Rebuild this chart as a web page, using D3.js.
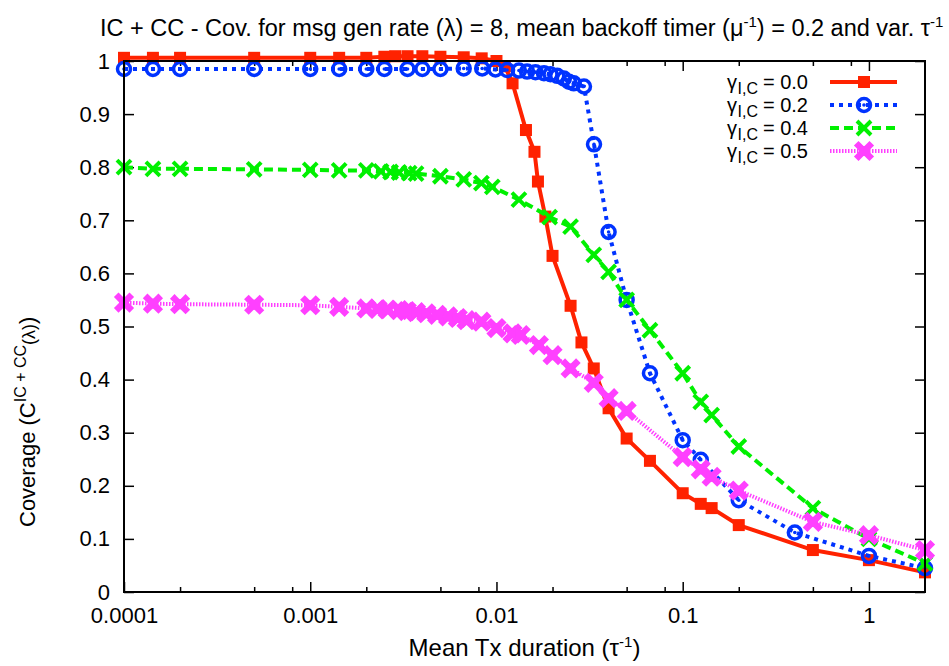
<!DOCTYPE html>
<html lang="en">
<head>
<meta charset="utf-8">
<title>IC + CC coverage vs mean Tx duration</title>
<script src="https://cdnjs.cloudflare.com/ajax/libs/d3/7.8.5/d3.min.js"></script>
<style>
body { margin: 0; background: #fff; }
svg text { font-family: "Liberation Sans", Arial, Helvetica, sans-serif; fill: #000; }
.tick line { stroke: #000; stroke-width: 1.5; }
.domain { display: none; }
</style>
</head>
<body>
<script>
// gamma_IC = 0.0
var xG00 = [0.0001, 0.000143, 0.0002, 0.0005, 0.001, 0.00143, 0.002, 0.0025, 0.00286, 0.00333, 0.004, 0.005, 0.00667, 0.00833, 0.01, 0.0111, 0.0122, 0.0144, 0.016, 0.0167, 0.0183, 0.02, 0.025, 0.0286, 0.0333, 0.04, 0.05, 0.0667, 0.1, 0.125, 0.143, 0.2, 0.5, 1, 2];
var yG00 = [1.006, 1.006, 1.006, 1.006, 1.006, 1.006, 1.006, 1.008, 1.009, 1.009, 1.009, 1.008, 1.007, 1.005, 1.0, 0.99, 0.958, 0.87, 0.829, 0.773, 0.707, 0.633, 0.539, 0.47, 0.421, 0.346, 0.289, 0.247, 0.186, 0.166, 0.158, 0.126, 0.079, 0.06, 0.037];

// gamma_IC = 0.2
var xG02 = [0.0001, 0.000143, 0.0002, 0.0005, 0.001, 0.00143, 0.002, 0.0025, 0.00333, 0.004, 0.005, 0.00667, 0.00838, 0.00988, 0.0114, 0.0132, 0.0146, 0.0162, 0.018, 0.0195, 0.0212, 0.023, 0.0245, 0.026, 0.0295, 0.0334, 0.04, 0.05, 0.0667, 0.1, 0.125, 0.2, 0.4, 1, 2];
var yG02 = [0.985, 0.985, 0.985, 0.985, 0.985, 0.985, 0.985, 0.985, 0.985, 0.985, 0.985, 0.986, 0.986, 0.984, 0.983, 0.982, 0.98, 0.979, 0.977, 0.975, 0.972, 0.967, 0.961, 0.958, 0.952, 0.843, 0.678, 0.55, 0.412, 0.286, 0.249, 0.173, 0.112, 0.068, 0.045];

// gamma_IC = 0.4
var xG04 = [0.0001, 0.000143, 0.0002, 0.0005, 0.001, 0.00143, 0.002, 0.0024, 0.0027, 0.003, 0.0034, 0.0037, 0.005, 0.00667, 0.0083, 0.0095, 0.0132, 0.0193, 0.025, 0.0333, 0.04, 0.05, 0.0667, 0.1, 0.125, 0.143, 0.2, 0.5, 1, 2];
var yG04 = [0.800, 0.797, 0.797, 0.796, 0.795, 0.794, 0.794, 0.792, 0.791, 0.790, 0.789, 0.788, 0.783, 0.777, 0.770, 0.763, 0.739, 0.706, 0.688, 0.635, 0.603, 0.55, 0.493, 0.412, 0.358, 0.333, 0.274, 0.158, 0.10, 0.054];

// gamma_IC = 0.5
var xG05 = [0.0001, 0.000143, 0.0002, 0.0005, 0.001, 0.00143, 0.002, 0.0023, 0.0026, 0.003, 0.0033, 0.0037, 0.0042, 0.0048, 0.0055, 0.0062, 0.0069, 0.0083, 0.01, 0.0122, 0.0135, 0.0169, 0.02, 0.025, 0.0333, 0.04, 0.05, 0.1, 0.125, 0.143, 0.2, 0.5, 1, 2];
var yG05 = [0.545, 0.543, 0.542, 0.541, 0.540, 0.537, 0.534, 0.533, 0.532, 0.531, 0.529, 0.527, 0.525, 0.522, 0.519, 0.516, 0.512, 0.509, 0.497, 0.487, 0.484, 0.465, 0.446, 0.421, 0.394, 0.365, 0.341, 0.254, 0.231, 0.217, 0.191, 0.132, 0.107, 0.079];

var legendValues = ["0.0", "0.2", "0.4", "0.5"];

var xMajorTicks = [0.0001, 0.001, 0.01, 0.1, 1];
var xTickLabels = ["0.0001", "0.001", "0.01", "0.1", "1"];
var xMinorTicks = [0.0002, 0.0005, 0.0008, 0.002, 0.005, 0.008, 0.02, 0.05, 0.08, 0.2, 0.5, 0.8];
var yTicks = [0, 0.1, 0.2, 0.3, 0.4, 0.5, 0.6, 0.7, 0.8, 0.9, 1];
var yTickLabels = ["0", "0.1", "0.2", "0.3", "0.4", "0.5", "0.6", "0.7", "0.8", "0.9", "1"];

var width = 949, height = 666;
var plot = {left: 124, right: 925, top: 61, bottom: 592};

var svg = d3.select("body").append("svg")
  .attr("width", width)
  .attr("height", height);

var x = d3.scaleLog().domain([0.0001, 2]).range([plot.left, plot.right]);
var y = d3.scaleLinear().domain([0, 1]).range([plot.bottom, plot.top]);

//axes, ticks pointing inward like gnuplot
svg.append("g")
  .attr("transform", "translate(0," + plot.bottom + ")")
  .call(d3.axisBottom(x).tickValues(xMajorTicks).tickSizeInner(-10).tickSizeOuter(0).tickPadding(15)
    .tickFormat(function(d, i) { return xTickLabels[i]; }))
  .selectAll("text").style("font-size", "22px");
svg.append("g")
  .attr("transform", "translate(0," + plot.bottom + ")")
  .call(d3.axisBottom(x).tickValues(xMinorTicks).tickSizeInner(-5).tickSizeOuter(0).tickFormat(""));
svg.append("g")
  .attr("transform", "translate(0," + plot.top + ")")
  .call(d3.axisTop(x).tickValues(xMajorTicks).tickSizeInner(-10).tickSizeOuter(0).tickFormat(""));
svg.append("g")
  .attr("transform", "translate(0," + plot.top + ")")
  .call(d3.axisTop(x).tickValues(xMinorTicks).tickSizeInner(-5).tickSizeOuter(0).tickFormat(""));
svg.append("g")
  .attr("transform", "translate(" + plot.left + ",0)")
  .call(d3.axisLeft(y).tickValues(yTicks).tickSizeInner(-10).tickSizeOuter(0).tickPadding(14)
    .tickFormat(function(d, i) { return yTickLabels[i]; }))
  .selectAll("text").style("font-size", "22px");
svg.append("g")
  .attr("transform", "translate(" + plot.right + ",0)")
  .call(d3.axisRight(y).tickValues(yTicks).tickSizeInner(-10).tickSizeOuter(0).tickFormat(""));

var series = [
  {xs: xG00, ys: yG00, color: "#ff2200", dash: null, mark: "square"},
  {xs: xG02, ys: yG02, color: "#0033ff", dash: "4,5", mark: "circle"},
  {xs: xG04, ys: yG04, color: "#00f000", dash: "9,5", mark: "cross"},
  {xs: xG05, ys: yG05, color: "#ff40ff", dash: "1.5,1.5", mark: "star"}
];

function drawMark(g, type, color) {
  if (type == "square") {
    g.append("rect").attr("x", -6).attr("y", -6).attr("width", 12).attr("height", 12).attr("fill", color);
  } else if (type == "circle") {
    g.append("circle").attr("r", 6.5).attr("fill", "none").attr("stroke", color).attr("stroke-width", 3.5);
    g.append("circle").attr("r", 1.8).attr("fill", color);
  } else if (type == "cross") {
    g.append("path").attr("d", "M-7,-7L7,7M-7,7L7,-7").attr("stroke", color).attr("stroke-width", 4).attr("fill", "none");
  } else {
    g.append("path").attr("d", "M-5.5,-5.5L5.5,5.5M-5.5,5.5L5.5,-5.5").attr("stroke", color).attr("stroke-width", 6.5)
      .attr("stroke-linecap", "square").attr("fill", "none");
    g.append("rect").attr("x", -5).attr("y", -5).attr("width", 10).attr("height", 10).attr("fill", color);
  }
}

var line = d3.line()
  .x(function(d) { return x(d[0]); })
  .y(function(d) { return y(d[1]); });

series.forEach(function(s) {
  var pts = s.xs.map(function(v, i) { return [v, s.ys[i]]; });
  svg.append("path")
    .datum(pts)
    .attr("d", line)
    .attr("fill", "none")
    .attr("stroke", s.color)
    .attr("stroke-width", 4)
    .attr("stroke-dasharray", s.dash);
  svg.selectAll(null)
    .data(pts)
    .enter().append("g")
    .attr("transform", function(d) { return "translate(" + x(d[0]) + "," + y(d[1]) + ")"; })
    .each(function() { drawMark(d3.select(this), s.mark, s.color); });
});

//frame
svg.append("rect")
  .attr("x", plot.left).attr("y", plot.top)
  .attr("width", plot.right - plot.left).attr("height", plot.bottom - plot.top)
  .attr("fill", "none").attr("stroke", "#000").attr("stroke-width", 2);

//legend: value, subscript and gamma as separate texts, laid out right to left
var leg = svg.append("g");
series.forEach(function(s, i) {
  var ly = 82 + i * 23;
  var val = leg.append("text").attr("x", 808).attr("y", ly + 7).attr("text-anchor", "end")
    .style("font-size", "20px").text("= " + legendValues[i]);
  var valLeft = 808 - val.node().getComputedTextLength();
  var sub = leg.append("text").attr("x", valLeft - 5).attr("y", ly + 12).attr("text-anchor", "end")
    .style("font-size", "16px").text("I,C");
  var subLeft = valLeft - 5 - sub.node().getComputedTextLength();
  leg.append("text").attr("x", subLeft - 0.5).attr("y", ly + 7).attr("text-anchor", "end")
    .style("font-size", "20px").text("\u03b3");
  leg.append("line")
    .attr("x1", 830).attr("x2", 897).attr("y1", ly).attr("y2", ly)
    .attr("stroke", s.color).attr("stroke-width", 4).attr("stroke-dasharray", s.dash);
  drawMark(leg.append("g").attr("transform", "translate(864," + ly + ")"), s.mark, s.color);
});

//title
var title = svg.append("text").attr("x", 100).attr("y", 36).style("font-size", "23.5px");
title.append("tspan").text("IC + CC - Cov. for msg gen rate (\u03bb) = 8, mean backoff timer (\u03bc");
title.append("tspan").attr("dy", -9).style("font-size", "15px").text("-1");
title.append("tspan").attr("dy", 9).text(") = 0.2 and var. \u03c4");
title.append("tspan").attr("dy", -9).style("font-size", "15px").text("-1");

//x label
var xl = svg.append("text").attr("x", (plot.left + plot.right) / 2).attr("y", 656)
  .attr("text-anchor", "middle").style("font-size", "24px");
xl.append("tspan").text("Mean Tx duration (\u03c4");
xl.append("tspan").attr("dy", -9).style("font-size", "15px").text("-1");
xl.append("tspan").attr("dy", 9).text(")");

//y label
var yl = svg.append("text")
  .attr("transform", "translate(35,527) rotate(-90)")
  .style("font-size", "22px");
yl.append("tspan").text("Coverage (C");
yl.append("tspan").attr("dy", -9).style("font-size", "16px").text("IC + CC");
yl.append("tspan").attr("dy", 9).style("font-size", "18px").text("(\u03bb)");
yl.append("tspan").text(")");
</script>
</body>
</html>
